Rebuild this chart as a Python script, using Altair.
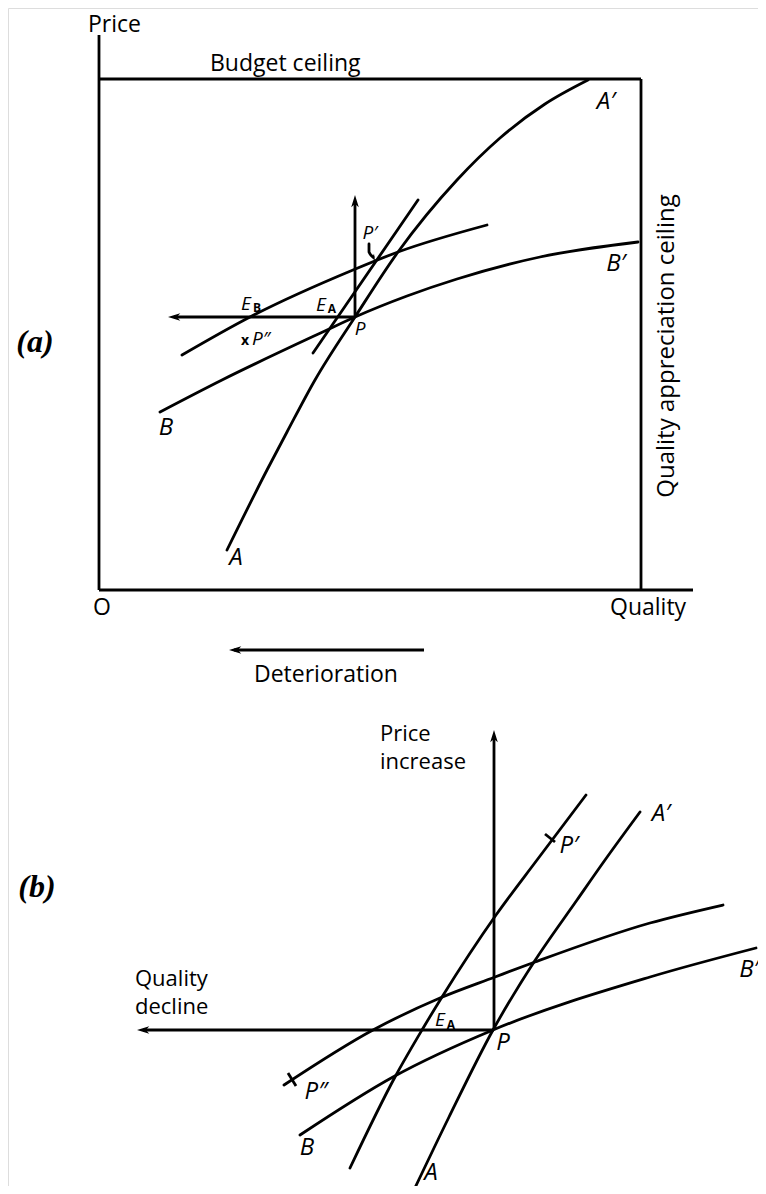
import altair as alt
import pandas as pd

# ---------------- panel (a): curves (diagram coordinates, y grows downward) ----------------
a_A_x = [227, 267, 287, 315, 355, 398, 457, 500, 545, 588]
a_A_y = [550, 470, 432, 380, 317, 252, 180, 138, 104, 80]
a_B_x = [160, 222, 327, 355, 407, 457, 540, 638]
a_B_y = [412, 380, 330, 317, 296, 279, 257, 242]
a_Bup_x = [182, 250, 353, 398, 487]
a_Bup_y = [355, 317, 270, 252, 225]
a_EA_x = [313, 418]
a_EA_y = [353, 200]
a_hook_x = [369, 369, 373]
a_hook_y = [244, 252, 257]

# ---------------- panel (b): curves ----------------
b_A_x = [413, 449, 493, 534, 577, 605, 640]
b_A_y = [1192, 1117, 1030, 962, 900, 860, 812]
b_P1_x = [350, 395, 422, 442, 496, 537, 586]
b_P1_y = [1168, 1077, 1030, 997, 915, 860, 795]
b_Bup_x = [284, 373, 440, 495, 535, 650, 723]
b_Bup_y = [1085, 1030, 998, 977, 962, 923, 905]
b_B_x = [300, 393, 493, 650, 756]
b_B_y = [1135, 1077, 1030, 977, 948]

# ---------------- straight segments ----------------
seg_x1 = [99, 99, 641, 99, 424, 355, 355, 494, 494, 545, 288]
seg_y1 = [35, 79, 79, 590, 650, 317, 317, 1030, 1030, 834, 1073]
seg_x2 = [99, 641, 641, 693, 234, 174, 355, 494, 143, 555, 296]
seg_y2 = [590, 79, 590, 590, 650, 317, 201, 736, 1030, 842, 1086]

# ---------------- arrow heads ----------------
head_x = [229, 168, 355, 494, 137]
head_y = [650, 317, 195, 730, 1030]
head_dir = [180, 180, 270, 270, 180]
hook_head_x = [375]
hook_head_y = [261]
hook_head_dir = [65]

# ---------------- texts ----------------
plain_text = ["Price", "Budget ceiling", "O", "Quality", "Deterioration"]
plain_x = [88, 210, 93, 610, 254]
plain_y = [25, 64, 608, 608, 675]

two_line_text = ["Price\nincrease", "Quality\ndecline"]
two_line_x = [380, 135]
two_line_y = [734, 979]

rot_text = ["Quality appreciation ceiling"]
rot_x = [667]
rot_y = [346]

big_italic = ["A", "A\u2032", "B", "B\u2032", "P\u2032", "A\u2032", "P", "P\u2033", "B", "A", "B\u2032"]
big_italic_x = [236, 606, 166, 616, 569, 661, 503, 316, 307, 431, 749]
big_italic_y = [558, 102, 428, 264, 846, 814, 1043, 1092, 1148, 1173, 970]

small_italic = ["P", "P\u2032", "P\u2033", "E", "E", "E"]
small_italic_x = [360, 370, 261, 246, 321, 440]
small_italic_y = [329, 233, 339, 304, 305, 1020]

subscripts = ["B", "A", "A"]
sub_x = [257, 332, 451]
sub_y = [308, 309, 1025]

cross_text = ["x"]
cross_x = [245]
cross_y = [341]

panel_text = ["(a)", "(b)"]
panel_x = [35, 37]
panel_y = [342, 887]

# ---------------- build tables ----------------
curves = []
for name, xs, ys in [("aA", a_A_x, a_A_y), ("aB", a_B_x, a_B_y), ("aBup", a_Bup_x, a_Bup_y),
                     ("aEA", a_EA_x, a_EA_y), ("ahook", a_hook_x, a_hook_y),
                     ("bA", b_A_x, b_A_y), ("bP1", b_P1_x, b_P1_y),
                     ("bBup", b_Bup_x, b_Bup_y), ("bB", b_B_x, b_B_y)]:
    for i, (xv, yv) in enumerate(zip(xs, ys)):
        curves.append({"curve": name, "order": i, "x": xv, "y": yv})
curves_df = pd.DataFrame(curves)

segs_df = pd.DataFrame({"x": seg_x1, "y": seg_y1, "x2": seg_x2, "y2": seg_y2})
heads_df = pd.DataFrame({"x": head_x, "y": head_y, "dir": head_dir})
hook_df = pd.DataFrame({"x": hook_head_x, "y": hook_head_y, "dir": hook_head_dir})

def tdf(t, xs, ys):
    return pd.DataFrame({"t": t, "x": xs, "y": ys})

X = alt.X("x:Q", scale=alt.Scale(domain=[8, 758], nice=False, zero=False), axis=None)
Y = alt.Y("y:Q", scale=alt.Scale(domain=[8, 1186], nice=False, zero=False, reverse=True), axis=None)

SANS = "Open Sans"
LW = 2.8

lines = alt.Chart(curves_df).mark_line(
    color="black", strokeWidth=LW, interpolate="monotone", strokeCap="round"
).encode(x=X, y=Y, detail="curve:N", order="order:Q")

rules = alt.Chart(segs_df).mark_rule(color="black", strokeWidth=LW).encode(
    x=X, y=Y, x2="x2:Q", y2="y2:Q")

ARROW = "M0,0L-2,-0.62L-1.45,0L-2,0.62Z"
heads = alt.Chart(heads_df).mark_point(
    shape=ARROW, filled=True, color="black", size=150, opacity=1
).encode(x=X, y=Y, angle=alt.Angle("dir:Q", scale=None))

hook_head = alt.Chart(hook_df).mark_point(
    shape=ARROW, filled=True, color="black", size=50, opacity=1
).encode(x=X, y=Y, angle=alt.Angle("dir:Q", scale=None))

plain = alt.Chart(tdf(plain_text, plain_x, plain_y)).mark_text(
    font=SANS, fontSize=23, align="left", baseline="middle", color="black"
).encode(x=X, y=Y, text="t:N")

two_line = alt.Chart(tdf(two_line_text, two_line_x, two_line_y)).mark_text(
    font=SANS, fontSize=22, align="left", baseline="middle", color="black",
    lineBreak="\n", lineHeight=28
).encode(x=X, y=Y, text="t:N")

rot = alt.Chart(tdf(rot_text, rot_x, rot_y)).mark_text(
    font=SANS, fontSize=24, align="center", baseline="middle", angle=270, color="black"
).encode(x=X, y=Y, text="t:N")

bigi = alt.Chart(tdf(big_italic, big_italic_x, big_italic_y)).mark_text(
    font=SANS, fontSize=24, fontStyle="italic", align="center", baseline="middle", color="black"
).encode(x=X, y=Y, text="t:N")

smalli = alt.Chart(tdf(small_italic, small_italic_x, small_italic_y)).mark_text(
    font=SANS, fontSize=19, fontStyle="italic", align="center", baseline="middle", color="black"
).encode(x=X, y=Y, text="t:N")

subs = alt.Chart(tdf(subscripts, sub_x, sub_y)).mark_text(
    font=SANS, fontSize=12, fontWeight="bold", align="center", baseline="middle", color="black"
).encode(x=X, y=Y, text="t:N")

cross = alt.Chart(tdf(cross_text, cross_x, cross_y)).mark_text(
    font=SANS, fontSize=14, fontWeight="bold", align="center", baseline="middle", color="black"
).encode(x=X, y=Y, text="t:N")

panels = alt.Chart(tdf(panel_text, panel_x, panel_y)).mark_text(
    font="Liberation Serif", fontSize=32, fontWeight="bold", fontStyle="italic",
    align="center", baseline="middle", color="black"
).encode(x=X, y=Y, text="t:N")

chart = alt.layer(lines, rules, heads, hook_head, plain, two_line, rot, bigi, smalli, subs, cross, panels).properties(
    width=750, height=1178, padding=0, autosize=alt.AutoSizeParams(type="none")
).configure_view(stroke=None).configure(background="white")

chart.save("out.html", embed_options={"renderer": "svg", "actions": False})
